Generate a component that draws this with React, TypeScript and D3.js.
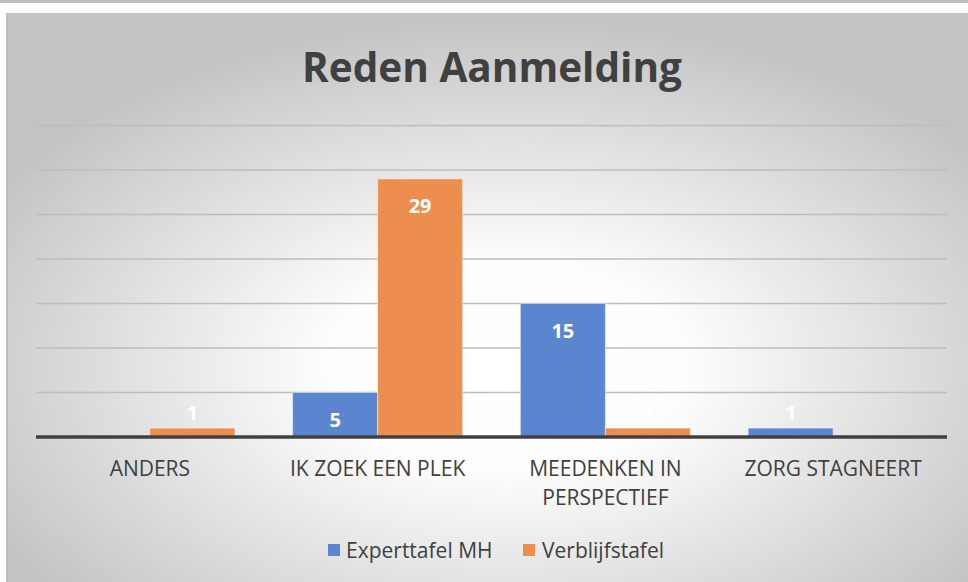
import * as d3 from 'd3';

const categories = [['ANDERS'], ['IK ZOEK EEN PLEK'], ['MEEDENKEN IN', 'PERSPECTIEF'], ['ZORG STAGNEERT']];
const seriesNames = ['Experttafel MH', 'Verblijfstafel'];
const experttafel = [0, 5, 15, 1];
const verblijfstafel = [1, 29, 1, 0];
const gridTicks = [0, 5, 10, 15, 20, 25, 30, 35];

const colors = ['#5b86cf', '#ee8e4e'];
const font = '"Open Sans", "Liberation Sans", sans-serif';

export default function App() {
  const width = 968;
  const height = 582;
  const plot = { left: 36, right: 947, top: 125.5, bottom: 437 };

  const x = d3.scaleBand<number>()
    .domain(d3.range(categories.length))
    .range([plot.left, plot.right]);
  const inner = d3.scaleBand<number>()
    .domain([0, 1])
    .range([x.bandwidth() / 2 - 85, x.bandwidth() / 2 + 85]);
  const y = d3.scaleLinear().domain([0, 35]).range([plot.bottom, plot.top]);

  const series = [experttafel, verblijfstafel];

  return (
    <svg width={width} height={height} style={{ position: 'absolute', left: 0, top: 0 }}>
      <defs>
        <radialGradient id="bg" cx="52%" cy="62%" r="62%" gradientUnits="objectBoundingBox">
          <stop offset="0%" stopColor="#ffffff" />
          <stop offset="30%" stopColor="#fdfdfd" />
          <stop offset="100%" stopColor="#c3c3c3" />
        </radialGradient>
      </defs>
      <rect x={0} y={0} width={width} height={height} fill="#ffffff" />
      <rect x={0} y={0} width={width} height={3} fill="#bdbdbd" />
      <rect x={6} y={13} width={width - 6} height={height - 13} fill="url(#bg)" />
      <rect x={6} y={13} width={2} height={height - 13} fill="#bcbcbc" />

      <text x={492} y={82} textAnchor="middle" fontFamily={font} fontWeight={700}
        fontSize={40.5} fill="#404040">Reden Aanmelding</text>

      {gridTicks.slice(1).map(t => (
        <line key={t} x1={plot.left} x2={plot.right} y1={y(t)} y2={y(t)}
          stroke="#bdbdbd" strokeWidth={1.5} />
      ))}

      {series.map((vals, si) => (
        <g key={si}>
          {vals.map((v, ci) => v > 0 && (
            <rect key={ci}
              x={(x(ci) ?? 0) + (inner(si) ?? 0)}
              y={y(v)}
              width={inner.bandwidth()}
              height={y(0) - y(v)}
              fill={colors[si]}
              stroke="#ffffff" strokeOpacity={0.45} strokeWidth={1} />
          ))}
        </g>
      ))}

      <line x1={plot.left} x2={plot.right} y1={y(0)} y2={y(0)} stroke="#404040" strokeWidth={3.5} />

      {series.map((vals, si) => (
        <g key={'l' + si}>
          {vals.map((v, ci) => {
            if (v <= 0) return null;
            const cx = (x(ci) ?? 0) + (inner(si) ?? 0) + inner.bandwidth() / 2;
            const inside = y(0) - y(v) > 30;
            const ty = inside ? y(v) + 34 : y(v) - 8;
            return (
              <text key={ci} x={cx} y={ty} textAnchor="middle" fontFamily={font}
                fontWeight={700} fontSize={20} fill="#ffffff">{v}</text>
            );
          })}
        </g>
      ))}

      {categories.map((lines, ci) => (
        <text key={ci} x={(x(ci) ?? 0) + x.bandwidth() / 2} y={476} textAnchor="middle"
          fontFamily={font} fontSize={21} fill="#404040">
          {lines.map((l, li) => (
            <tspan key={li} x={(x(ci) ?? 0) + x.bandwidth() / 2} dy={li === 0 ? 0 : 29}>{l}</tspan>
          ))}
        </text>
      ))}

      <g>
        <rect x={328} y={544} width={12} height={12} fill={colors[0]} />
        <text x={346} y={558} fontFamily={font} fontSize={21} fill="#404040">{seriesNames[0]}</text>
        <rect x={523} y={544} width={12} height={12} fill={colors[1]} />
        <text x={542} y={558} fontFamily={font} fontSize={21} fill="#404040">{seriesNames[1]}</text>
      </g>
    </svg>
  );
}
